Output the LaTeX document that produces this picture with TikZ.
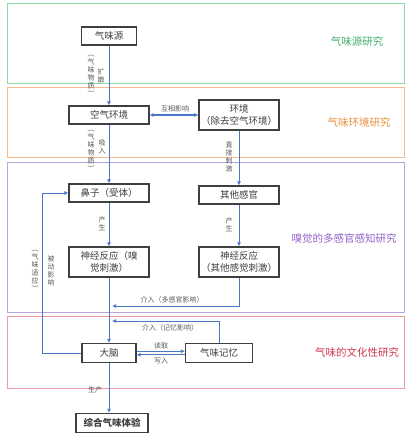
\documentclass[tikz,border=0pt]{standalone}
\usepackage{fontspec}
\setmainfont{Noto Sans CJK SC}
\usetikzlibrary{arrows.meta,positioning,calc}
\definecolor{OdorGreen}{HTML}{8FDBA8}
\definecolor{OdorGreenText}{HTML}{3FAE6A}
\definecolor{OdorOrange}{HTML}{F5B98A}
\definecolor{OdorOrangeText}{HTML}{E8903A}
\definecolor{OdorPurple}{HTML}{B9A3DE}
\definecolor{OdorPurpleText}{HTML}{9060C8}
\definecolor{OdorRed}{HTML}{EE9AA6}
\definecolor{OdorRedText}{HTML}{D0354F}
\definecolor{OdorBlue}{HTML}{4A78C8}
\definecolor{OdorDark}{HTML}{3F3F3F}
\definecolor{OdorGray}{HTML}{5A5A5A}
\tikzset{
  region/.style={line width=0.9pt},
  regiontitle/.style={font=\fontsize{10.5}{12}\selectfont, inner sep=0pt},
  box/.style={draw=OdorDark, line width=1.1pt, fill=white, text=OdorDark,
              align=center, font=\fontsize{9.5}{11.5}\selectfont,
              minimum width=80pt, minimum height=18pt, inner sep=1pt},
  arrow/.style={-{Latex[length=4pt,width=4pt]}, line width=0.9pt, OdorBlue},
  biarrow/.style={{Latex[length=4pt,width=4pt]}-{Latex[length=4pt,width=4pt]},
                  line width=1.3pt, OdorBlue},
  lbl/.style={font=\fontsize{7}{8}\selectfont, text=OdorGray, inner sep=0pt, align=center},
}

\begin{document}
\begin{tikzpicture}[x=1pt,y=-1pt]
  \useasboundingbox (0,0) rectangle (408,435);

  % research areas
  \draw[region, draw=OdorGreen]  (7,3)   rectangle (404,83);
  \draw[region, draw=OdorOrange] (7,87)  rectangle (404,157);
  \draw[region, draw=OdorPurple] (7,162) rectangle (404,312);
  \draw[region, draw=OdorRed]    (7,316) rectangle (404,388);
  \node[regiontitle, text=OdorGreenText]  (t1) at (357,41)  {气味源研究};
  \node[regiontitle, text=OdorOrangeText] (t2) at (359,122) {气味环境研究};
  \node[regiontitle, text=OdorPurpleText] (t3) at (344,238) {嗅觉的多感官感知研究};
  \node[regiontitle, text=OdorRedText]    (t4) at (357,352) {气味的文化性研究};

  \node[box, minimum width=55pt] (src) at (109,36) {气味源};
  \node[box] (air) at (109,115) {空气环境};
  \node[box, minimum height=30pt] (env) at (239,115) {环境\\（除去空气环境）};
  \node[box] (nose) at (109,193) {鼻子（受体）};
  \node[box] (other) at (239,195) {其他感官};
  \node[box, minimum height=30pt] (neuro1) at (109,262) {神经反应（嗅\\觉刺激）};
  \node[box, minimum height=30pt] (neuro2) at (239,262) {神经反应\\（其他感觉刺激）};
  \node[box, minimum width=54pt, minimum height=19pt] (brain) at (109,353) {大脑};
  \node[box, minimum width=67pt, minimum height=19pt] (mem) at (219,353) {气味记忆};
  \node[box, minimum width=72pt, minimum height=19pt, line width=1.4pt,
        font=\fontsize{9.5}{11.5}\selectfont\bfseries] (exp) at (112,423) {综合气味体验};

  \coordinate (multi) at (112,306);
  \coordinate (memory) at (112,321);

  % main flow
  \draw[arrow] (src) -- (air);
  \draw[arrow] (air) -- (nose);
  \draw[arrow] (nose) -- (neuro1);
  \draw[arrow] (neuro1) -- (brain);
  \draw[arrow] (brain) -- (brain |- exp.north);
  \draw[biarrow] (air) -- (env);
  \draw[arrow] (env) -- (env |- other.north);
  \draw[arrow] (other) -- (neuro2);
  \draw[arrow] (neuro2) |- (multi);
  \draw[arrow] (mem) |- (memory);
  \draw[arrow] ([yshift=1.8pt]brain.east) -- ([yshift=1.8pt]mem.west);
  \draw[arrow] ([yshift=-1.8pt]mem.west) -- ([yshift=-1.8pt]brain.east);
  \draw[arrow] (brain.west) -- ++(-39,0) |- (nose.west);

  % labels
  \node[lbl] (l1a) at (91,76) {︵\\气\\味\\物\\质\\︶};
  \node[lbl] (l1b) at (101,76) {扩\\散};
  \node[lbl] (l2a) at (91,151) {︵\\气\\味\\物\\质\\︶};
  \node[lbl] (l2b) at (102,147) {吸\\入};
  \node[lbl] (l3) at (175,109) {互相影响};
  \node[lbl] (l4) at (229,157) {直\\接\\刺\\激};
  \node[lbl] (l5) at (102,224) {产\\生};
  \node[lbl] (l6) at (229,225) {产\\生};
  \node[lbl] (l7) at (172,300) {介入（多感官影响）};
  \node[lbl] (l8) at (170,328) {介入（记忆影响）};
  \node[lbl] (l9) at (161,346) {读取};
  \node[lbl] (l10) at (161,361) {写入};
  \node[lbl] (l11) at (35,271) {︵\\气\\味\\适\\应\\︶};
  \node[lbl] (l12) at (51,271) {被\\动\\影\\响};
  \node[lbl] (l13) at (95,390) {生产};
\end{tikzpicture}
\end{document}
